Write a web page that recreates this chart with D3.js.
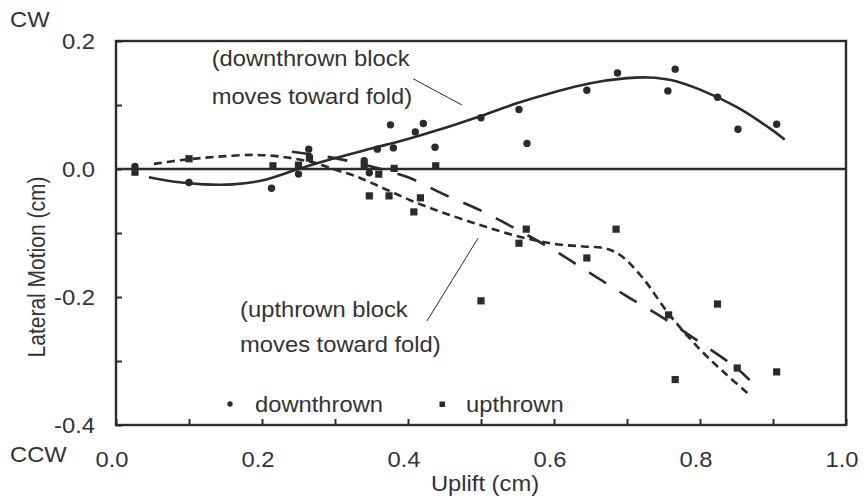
<!DOCTYPE html>
<html>
<head>
<meta charset="utf-8">
<script src="https://cdn.jsdelivr.net/npm/d3@7"></script>
<style>
  body { margin: 0; background: #fff; }
  text { font-family: "Liberation Sans", Arial, sans-serif; fill: #333; }
</style>
</head>
<body>
<div id="chart"></div>
<script>
// data
const downX = [0.026, 0.100, 0.213, 0.250, 0.264, 0.340, 0.347, 0.358, 0.376, 0.380, 0.410, 0.421, 0.437, 0.500, 0.552, 0.563, 0.645, 0.687, 0.756, 0.766, 0.824, 0.852, 0.905];
const downY = [0.004, -0.021, -0.030, -0.008, 0.031, 0.013, -0.006, 0.031, 0.069, 0.033, 0.058, 0.071, 0.034, 0.080, 0.093, 0.040, 0.123, 0.150, 0.122, 0.156, 0.112, 0.062, 0.070];

const upX = [0.026, 0.100, 0.215, 0.250, 0.265, 0.340, 0.360, 0.381, 0.438, 0.347, 0.374, 0.417, 0.408, 0.500, 0.552, 0.562, 0.645, 0.685, 0.757, 0.766, 0.824, 0.851, 0.905];
const upY = [-0.005, 0.016, 0.005, 0.006, 0.017, 0.005, -0.008, 0.001, 0.005, -0.042, -0.042, -0.045, -0.067, -0.206, -0.116, -0.094, -0.139, -0.094, -0.228, -0.329, -0.211, -0.311, -0.317];

// fitted curves (traced)
const downFitX = [0.045, 0.08, 0.12, 0.16, 0.20, 0.25, 0.30, 0.35, 0.40, 0.45, 0.50, 0.55, 0.60, 0.65, 0.70, 0.73, 0.76, 0.80, 0.85, 0.90, 0.916];
const downFitY = [-0.013, -0.020, -0.024, -0.024, -0.018, 0.000, 0.017, 0.032, 0.047, 0.064, 0.083, 0.103, 0.120, 0.134, 0.142, 0.143, 0.139, 0.124, 0.097, 0.060, 0.046];

const upFitX = [0.052, 0.09, 0.137, 0.19, 0.228, 0.255, 0.275, 0.30, 0.33, 0.37, 0.41, 0.45, 0.50, 0.55, 0.60, 0.64, 0.67, 0.69, 0.72, 0.757, 0.80, 0.835, 0.865];
const upFitY = [0.008, 0.014, 0.019, 0.022, 0.019, 0.014, 0.009, -0.001, -0.012, -0.032, -0.052, -0.069, -0.088, -0.105, -0.117, -0.121, -0.124, -0.134, -0.168, -0.226, -0.282, -0.320, -0.350];

const trendX = [0.241, 0.30, 0.35, 0.40, 0.45, 0.50, 0.55, 0.60, 0.65, 0.70, 0.75, 0.80, 0.85, 0.868];
const trendY = [0.027, 0.017, 0.004, -0.013, -0.040, -0.065, -0.095, -0.127, -0.163, -0.199, -0.233, -0.271, -0.311, -0.330];

const xTicks = [0, 0.1, 0.2, 0.3, 0.4, 0.5, 0.6, 0.7, 0.8, 0.9, 1.0];
const xLabels = [0, 0.2, 0.4, 0.6, 0.8, 1.0];
const yTicks = [0.2, 0.1, 0, -0.1, -0.2, -0.3, -0.4];
const yLabels = [0.2, 0, -0.2, -0.4];

const width = 868, height = 499;
const ink = "#2b2b2b";
const stretch = 1.08;

const x = d3.scaleLinear().domain([0, 1]).range([116, 846]);
const y = d3.scaleLinear().domain([-0.4, 0.2]).range([425, 41]);

const svg = d3.select("#chart").append("svg")
    .attr("width", width)
    .attr("height", height);

// text helper, glyphs slightly wide like the original
function label(px, py, str, anchor, size) {
    return svg.append("text")
        .attr("transform", `translate(${px},${py}) scale(${stretch},1)`)
        .attr("text-anchor", anchor || "start")
        .style("font-size", (size || 22) + "px")
        .text(str);
}

// axes, ticks inside
svg.append("g")
    .attr("transform", `translate(0,${y(-0.4)})`)
    .call(d3.axisBottom(x).tickValues(xTicks).tickSize(-6).tickFormat(""))
    .call(g => g.select(".domain").remove())
    .selectAll("line").attr("stroke", ink).attr("stroke-width", 2);

svg.append("g")
    .attr("transform", `translate(${x(0)},0)`)
    .call(d3.axisLeft(y).tickValues(yTicks).tickSize(-6).tickFormat(""))
    .call(g => g.select(".domain").remove())
    .selectAll("line").attr("stroke", ink).attr("stroke-width", 2);

// frame and zero line
svg.append("rect")
    .attr("x", x(0)).attr("y", y(0.2))
    .attr("width", x(1) - x(0)).attr("height", y(-0.4) - y(0.2))
    .attr("fill", "none").attr("stroke", ink).attr("stroke-width", 2.4);

svg.append("line")
    .attr("x1", x(0)).attr("x2", x(1))
    .attr("y1", y(0)).attr("y2", y(0))
    .attr("stroke", ink).attr("stroke-width", 2.4);

// tick labels
xLabels.forEach(v => label(x(v) - 4, 467, d3.format(".1f")(v), "middle"));
yLabels.forEach(v => label(95, y(v) + 8, d3.format(".1f")(v).replace("−", "-"), "end"));

// axis titles and side notes
label(485, 491, "Uplift (cm)", "middle");
svg.append("text")
    .attr("transform", "translate(45,267) scale(1.1,1) rotate(-90)")
    .attr("text-anchor", "middle")
    .style("font-size", "21px")
    .text("Lateral Motion (cm)");
label(10, 27, "CW");
label(10, 462, "CCW");

// fitted curves
const line = d3.line()
    .x(d => x(d[0]))
    .y(d => y(d[1]))
    .curve(d3.curveCatmullRom.alpha(0.5));

svg.append("path")
    .attr("d", line(downFitX.map((v, i) => [v, downFitY[i]])))
    .attr("fill", "none").attr("stroke", ink).attr("stroke-width", 2.6);

svg.append("path")
    .attr("d", line(upFitX.map((v, i) => [v, upFitY[i]])))
    .attr("fill", "none").attr("stroke", ink).attr("stroke-width", 2.6)
    .attr("stroke-dasharray", "8,5");

svg.append("path")
    .attr("d", line(trendX.map((v, i) => [v, trendY[i]])))
    .attr("fill", "none").attr("stroke", ink).attr("stroke-width", 2.6)
    .attr("stroke-dasharray", "20,16");

// points
svg.append("g").selectAll("circle")
    .data(downX.map((v, i) => [v, downY[i]]))
    .join("circle")
    .attr("cx", d => x(d[0])).attr("cy", d => y(d[1]))
    .attr("r", 3.7).attr("fill", ink);

svg.append("g").selectAll("rect")
    .data(upX.map((v, i) => [v, upY[i]]))
    .join("rect")
    .attr("x", d => x(d[0]) - 3.6).attr("y", d => y(d[1]) - 3.6)
    .attr("width", 7.2).attr("height", 7.2).attr("fill", ink);

// annotations
const notes = [
    { lines: ["(downthrown block", "moves toward fold)"], tx: 0.131, ty: 0.161, gap: 38, from: [0.407, 0.141], to: [0.474, 0.100] },
    { lines: ["(upthrown block", "moves toward fold)"], tx: 0.170, ty: -0.231, gap: 35, from: [0.496, -0.108], to: [0.426, -0.2375] }
];
notes.forEach(n => {
    n.lines.forEach((t, i) => label(x(n.tx), y(n.ty) + i * n.gap, t));
    svg.append("line")
        .attr("x1", x(n.from[0])).attr("y1", y(n.from[1]))
        .attr("x2", x(n.to[0])).attr("y2", y(n.to[1]))
        .attr("stroke", ink).attr("stroke-width", 1);
});

// legend
svg.append("circle").attr("cx", 230).attr("cy", 404).attr("r", 2.7).attr("fill", ink);
label(255, 412, "downthrown");
svg.append("rect").attr("x", 439.5).attr("y", 401.5).attr("width", 5.5).attr("height", 5.5).attr("fill", ink);
label(466, 412, "upthrown");
</script>
</body>
</html>
